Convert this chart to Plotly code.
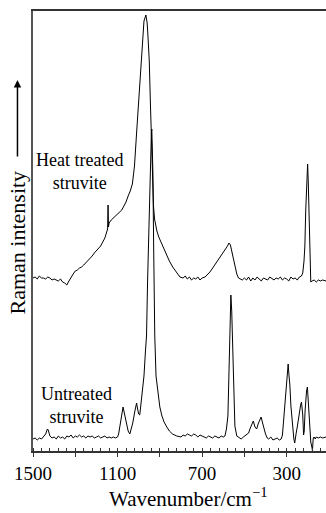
import plotly.graph_objects as go

# Heat treated struvite (upper spectrum): wavenumber (cm^-1) and intensity (a.u.)
heat_wn = [1500, 1490, 1480, 1470, 1460, 1450, 1440, 1430, 1420, 1410, 1400, 1390, 1380, 1370, 1360, 1350,
           1340, 1330, 1320, 1310, 1300, 1290, 1280, 1270, 1260, 1250, 1240, 1230, 1220, 1210, 1200, 1190,
           1180, 1170, 1160, 1150, 1147, 1145, 1143, 1140, 1130, 1120, 1110, 1100, 1090, 1080, 1070, 1060,
           1050, 1040, 1030, 1020, 1010, 1000, 995, 990, 981, 975, 966, 960, 957, 950, 945, 940, 935, 930,
           925, 920, 914, 905, 895, 886, 870, 855, 839, 820, 805, 790, 780, 770, 760, 750, 740, 730, 720, 710,
           700, 686, 675, 663, 650, 640, 628, 616, 604, 592, 580, 573, 566, 560, 550, 543, 536, 528, 521,
           510, 500, 490, 480, 470, 460, 450, 440, 430, 420, 410, 400, 390, 380, 370, 360, 350, 340, 330,
           320, 310, 300, 290, 280, 270, 260, 250, 240, 230, 224, 218, 214, 210, 207, 203, 201, 198, 195,
           192, 190, 188, 186, 180, 170, 160, 150, 140, 130, 114]
heat_int = [173, 174, 172, 175, 173, 173, 172, 174, 173, 171, 172, 171, 170, 172, 169, 168,
            166, 170, 174, 177, 180, 181, 183, 184, 186, 188, 190, 193, 195, 198, 200, 203,
            205, 209, 213, 220, 222, 246, 224, 228, 231, 233, 234, 236, 238, 241, 245, 249,
            255, 260, 267, 285, 318, 350, 368, 385, 418, 430, 436, 428, 418, 390, 350, 310, 270, 245,
            232, 226, 220, 214, 209, 205, 197, 190, 184, 178, 174, 173, 175, 172, 174, 171, 173, 172, 174, 171,
            173, 174, 176, 179, 183, 186, 190, 194, 198, 201, 205, 208, 206, 200, 189, 182, 177, 173, 172,
            171, 173, 171, 174, 170, 173, 171, 174, 172, 170, 173, 172, 171, 174, 172, 171, 173, 172, 174,
            171, 173, 172, 170, 174, 172, 173, 171, 174, 175, 178, 190, 205, 240, 262, 286, 287, 270, 245,
            215, 190, 172, 169, 170, 171, 169, 171, 170, 171, 170]

# Untreated struvite (lower spectrum)
untr_wn = [1500, 1490, 1480, 1470, 1460, 1450, 1440, 1432, 1428, 1420, 1410, 1400, 1390, 1380, 1370, 1360,
           1350, 1340, 1330, 1320, 1310, 1300, 1290, 1280, 1270, 1260, 1250, 1240, 1230, 1220, 1210, 1200,
           1190, 1180, 1170, 1160, 1150, 1140, 1130, 1120, 1110, 1100, 1095, 1088, 1080, 1074, 1068, 1061,
           1050, 1042, 1035, 1028, 1018, 1010, 1005, 1000, 995, 990, 981, 975, 968, 963, 958, 953, 948, 943,
           940, 938, 935, 933, 929, 924, 918, 910, 900, 890, 880, 867, 855, 840, 820, 800, 790, 780, 770,
           760, 750, 740, 730, 720, 710, 700, 690, 680, 670, 660, 650, 640, 630, 620, 610, 600, 592, 585,
           578, 574, 571, 567, 564, 560, 557, 553, 550, 545, 536, 525, 515, 505, 498, 490, 480, 474, 466,
           458, 450, 442, 435, 428, 421, 414, 407, 400, 392, 385, 375, 365, 355, 345, 335, 326, 320, 315,
           310, 305, 301, 297, 293, 290, 285, 280, 275, 271, 266, 262, 258, 255, 250, 246, 240, 234, 230,
           227, 224, 220, 217, 213, 210, 206, 202, 199, 195, 190, 186, 180, 178, 176, 174, 170, 165, 160,
           150, 140, 130, 114]
untr_int = [12, 13, 11, 13, 12, 14, 17, 22, 21, 15, 13, 14, 12, 15, 13, 14,
            12, 15, 14, 16, 13, 15, 14, 16, 14, 15, 13, 15, 14, 15, 13, 14,
            15, 13, 14, 15, 13, 14, 13, 14, 13, 14, 17, 25, 38, 44, 38, 30,
            20, 17, 22, 28, 40, 48, 42, 37, 36, 45, 58, 75, 100, 115, 170, 220, 270, 300,
            318, 322, 305, 280, 200, 115, 75, 58, 44, 35, 29, 24, 20, 17, 15, 14, 16, 15, 17,
            16, 15, 17, 16, 14, 16, 15, 14, 13, 15, 14, 13, 15, 14, 13, 15, 14, 15, 22,
            35, 70, 110, 145, 156, 140, 115, 70, 42, 25, 15, 13, 12, 14, 15, 16, 18, 22, 26,
            30, 24, 22, 27, 30, 34, 28, 22, 17, 13, 12, 14, 11, 12, 13, 11, 12, 16, 30,
            45, 60, 72, 84, 87, 78, 66, 45, 30, 20, 12, 8, 12, 18, 24, 30, 42, 46, 49,
            44, 36, 16, 20, 40, 52, 60, 64, 55, 40, 20, 9, 3, 0, 8, 13, 14, 12, 14,
            13, 14, 13, 14]

tick_vals = [1500, 1300, 1100, 900, 700, 500, 300]
tick_text = ["1500", "", "1100", "", "700", "", "300"]

FONT = "Liberation Serif"

fig = go.Figure()
fig.add_trace(go.Scatter(x=heat_wn, y=heat_int, mode="lines",
                         line=dict(color="black", width=1), showlegend=False))
fig.add_trace(go.Scatter(x=untr_wn, y=untr_int, mode="lines",
                         line=dict(color="black", width=1), showlegend=False))

fig.update_layout(
    width=326, height=513,
    margin=dict(l=33, r=0, t=11, b=62),
    paper_bgcolor="white", plot_bgcolor="white",
    font=dict(family=FONT, color="black"),
    xaxis=dict(range=[1500, 114], showline=True, linecolor="#333", linewidth=1.5, mirror=True,
               showgrid=False, zeroline=False, tickmode="array", tickvals=tick_vals, ticktext=tick_text,
               ticks="outside", ticklen=4, tickcolor="#333", tickfont=dict(family=FONT, size=19),
               minor=dict(tickmode="linear", tick0=1500, dtick=40, ticks="inside", ticklen=3,
                          tickcolor="#333", showgrid=False)),
    yaxis=dict(range=[0, 440], showline=True, linecolor="#555", linewidth=1.5, showgrid=False,
               zeroline=False, showticklabels=False, ticks=""),
    annotations=[
        dict(text="Wavenumber/cm<sup>−1</sup>", xref="paper", yref="paper", x=0.532, y=-0.105,
             xanchor="center", yanchor="middle", showarrow=False, font=dict(family=FONT, size=21)),
        dict(text="Raman intensity", xref="paper", yref="paper", x=-0.053, y=0.475, textangle=-90,
             xanchor="center", yanchor="middle", showarrow=False, font=dict(family=FONT, size=22)),
        dict(text="", xref="paper", yref="paper", x=-0.053, y=0.843, ax=0, ay=78,
             showarrow=True, arrowhead=2, arrowsize=1, arrowwidth=1.5, arrowcolor="black"),
        dict(text="Heat treated<br>struvite", xref="paper", yref="paper", x=0.16, y=0.635,
             xanchor="center", yanchor="middle", showarrow=False, align="center",
             font=dict(family=FONT, size=18)),
        dict(text="Untreated<br>struvite", xref="paper", yref="paper", x=0.15, y=0.104,
             xanchor="center", yanchor="middle", showarrow=False, align="center",
             font=dict(family=FONT, size=18)),
    ],
)

fig.write_html("out.html", config={"displayModeBar": False},
               post_script="document.body.style.margin='0';document.body.style.overflow='hidden';")
